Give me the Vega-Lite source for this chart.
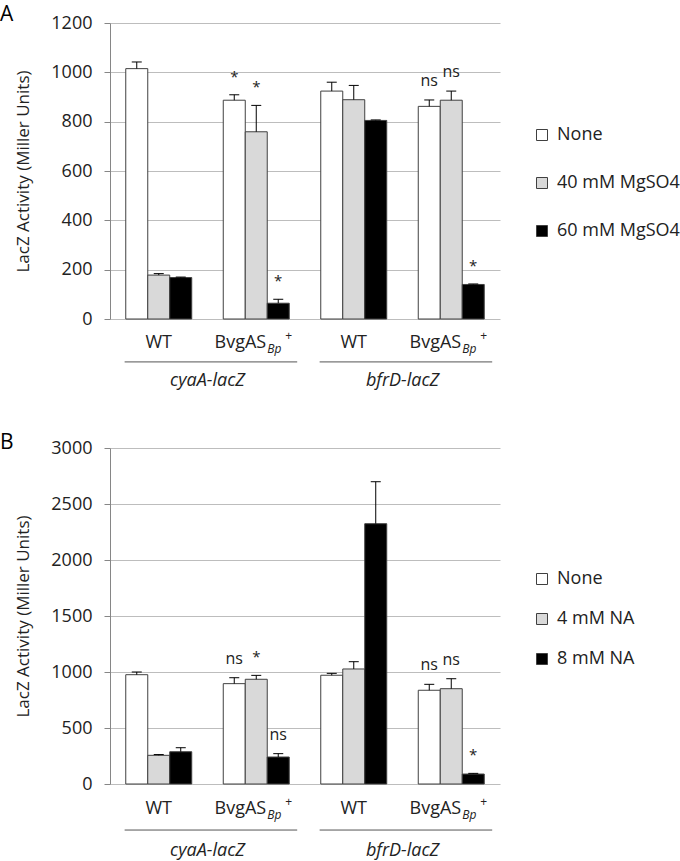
{
  "$schema": "https://vega.github.io/schema/vega-lite/v6.json",
  "padding": {"left": 0, "top": 4, "right": 0, "bottom": 0},
  "background": "white",
  "bounds": "flush",
  "spacing": 129,
  "config": {
    "font": "Open Sans",
    "view": {"stroke": null},
    "axis": {
      "labelFontSize": 18, "labelColor": "#222", "labelFont": "Open Sans", "format": "d",
      "titleFontSize": 17, "titleFontWeight": "normal", "titleColor": "#222", "titleFont": "Open Sans",
      "domainColor": "#868686", "tickColor": "#868686", "tickSize": 6,
      "gridColor": "#bdbdbd", "labelPadding": 12, "titlePadding": 18
    },
    "legend": {
      "title": null, "orient": "none", "symbolType": "square", "symbolSize": 121,
      "symbolStrokeColor": "#404040", "symbolStrokeWidth": 1, "labelFontSize": 18,
      "labelOffset": 6, "labelColor": "#222", "padding": 0, "labelFont": "Open Sans", "symbolOpacity": 1
    }
  },
  "resolve": {"scale": {"fill": "independent", "y": "independent", "x": "independent", "xOffset": "independent"}, "legend": {"fill": "independent"}},
  "datasets": {
    "mg": [
      {"grp": "cyaA-WT", "cond": "None", "value": 1015, "upper": 1042, "sig": ""},
      {"grp": "cyaA-WT", "cond": "40 mM MgSO4", "value": 178, "upper": 184, "sig": ""},
      {"grp": "cyaA-WT", "cond": "60 mM MgSO4", "value": 168, "upper": 170, "sig": ""},
      {"grp": "cyaA-BvgAS", "cond": "None", "value": 887, "upper": 909, "sig": "*"},
      {"grp": "cyaA-BvgAS", "cond": "40 mM MgSO4", "value": 759, "upper": 866, "sig": "*"},
      {"grp": "cyaA-BvgAS", "cond": "60 mM MgSO4", "value": 64, "upper": 80, "sig": "*"},
      {"grp": "bfrD-WT", "cond": "None", "value": 924, "upper": 960, "sig": ""},
      {"grp": "bfrD-WT", "cond": "40 mM MgSO4", "value": 889, "upper": 947, "sig": ""},
      {"grp": "bfrD-WT", "cond": "60 mM MgSO4", "value": 805, "upper": 807, "sig": ""},
      {"grp": "bfrD-BvgAS", "cond": "None", "value": 862, "upper": 888, "sig": "ns"},
      {"grp": "bfrD-BvgAS", "cond": "40 mM MgSO4", "value": 887, "upper": 924, "sig": "ns"},
      {"grp": "bfrD-BvgAS", "cond": "60 mM MgSO4", "value": 140, "upper": 142, "sig": "*"}
    ],
    "na": [
      {"grp": "cyaA-WT", "cond": "None", "value": 976, "upper": 1000, "sig": ""},
      {"grp": "cyaA-WT", "cond": "4 mM NA", "value": 256, "upper": 263, "sig": ""},
      {"grp": "cyaA-WT", "cond": "8 mM NA", "value": 288, "upper": 324, "sig": ""},
      {"grp": "cyaA-BvgAS", "cond": "None", "value": 896, "upper": 949, "sig": "ns"},
      {"grp": "cyaA-BvgAS", "cond": "4 mM NA", "value": 935, "upper": 970, "sig": "*"},
      {"grp": "cyaA-BvgAS", "cond": "8 mM NA", "value": 241, "upper": 271, "sig": "ns"},
      {"grp": "bfrD-WT", "cond": "None", "value": 971, "upper": 988, "sig": ""},
      {"grp": "bfrD-WT", "cond": "4 mM NA", "value": 1027, "upper": 1092, "sig": ""},
      {"grp": "bfrD-WT", "cond": "8 mM NA", "value": 2324, "upper": 2699, "sig": ""},
      {"grp": "bfrD-BvgAS", "cond": "None", "value": 837, "upper": 890, "sig": "ns"},
      {"grp": "bfrD-BvgAS", "cond": "4 mM NA", "value": 851, "upper": 940, "sig": "ns"},
      {"grp": "bfrD-BvgAS", "cond": "8 mM NA", "value": 89, "upper": 95, "sig": "*"}
    ],
    "strains": [
      {"grp": "cyaA-WT", "main": "WT", "sub": "", "sup": ""},
      {"grp": "cyaA-BvgAS", "main": "BvgAS", "sub": "Bp", "sup": "+"},
      {"grp": "bfrD-WT", "main": "WT", "sub": "", "sup": ""},
      {"grp": "bfrD-BvgAS", "main": "BvgAS", "sub": "Bp", "sup": "+"}
    ],
    "reporters": [
      {"rep": "cyaA-lacZ", "first": "cyaA-WT", "last": "cyaA-BvgAS"},
      {"rep": "bfrD-lacZ", "first": "bfrD-WT", "last": "bfrD-BvgAS"}
    ]
  },
  "vconcat": [
    {
      "width": 390, "height": 296,
      "title": {"text": "A", "anchor": "start", "frame": "group", "dx": -110, "fontSize": 21, "fontWeight": "normal", "offset": -28, "baseline": "alphabetic", "color": "black"},
      "layer": [
        {
          "data": {"name": "mg"},
          "mark": {"type": "bar", "stroke": "#404040", "strokeWidth": 1},
          "encoding": {
            "x": {"field": "grp", "type": "nominal", "scale": {"domain": ["cyaA-WT", "cyaA-BvgAS", "bfrD-WT", "bfrD-BvgAS"], "paddingInner": 0, "paddingOuter": 0}, "axis": null},
            "xOffset": {"field": "cond", "type": "nominal", "scale": {"domain": ["None", "40 mM MgSO4", "60 mM MgSO4"], "paddingInner": 0, "paddingOuter": 0.716}},
            "y": {"field": "value", "type": "quantitative", "scale": {"domain": [0, 1200], "nice": false}, "axis": {"values": [0, 200, 400, 600, 800, 1000, 1200], "title": "LacZ Activity (Miller Units)", "grid": true}},
            "fill": {"field": "cond", "type": "nominal", "scale": {"domain": ["None", "40 mM MgSO4", "60 mM MgSO4"], "range": ["white", "#d9d9d9", "black"]}, "legend": {"legendX": 423, "legendY": 103, "rowPadding": 30}}
          }
        },
        {
          "data": {"name": "mg"},
          "mark": {"type": "rule", "color": "black", "strokeWidth": 1},
          "encoding": {
            "x": {"field": "grp", "type": "nominal"},
            "xOffset": {"field": "cond", "type": "nominal"},
            "y": {"field": "value", "type": "quantitative"},
            "y2": {"field": "upper"}
          }
        },
        {
          "data": {"name": "mg"},
          "mark": {"type": "tick", "color": "black", "size": 10, "thickness": 1, "opacity": 1},
          "encoding": {
            "x": {"field": "grp", "type": "nominal"},
            "xOffset": {"field": "cond", "type": "nominal"},
            "y": {"field": "upper", "type": "quantitative"}
          }
        },
        {
          "data": {"name": "mg"},
          "transform": [{"filter": "datum.sig == '*'"}],
          "mark": {"type": "text", "fontSize": 15, "dy": -13, "baseline": "alphabetic", "color": "#222"},
          "encoding": {
            "x": {"field": "grp", "type": "nominal"},
            "xOffset": {"field": "cond", "type": "nominal"},
            "y": {"field": "upper", "type": "quantitative"},
            "text": {"field": "sig"}
          }
        },
        {
          "data": {"name": "mg"},
          "transform": [{"filter": "datum.sig == 'ns'"}],
          "mark": {"type": "text", "fontSize": 16, "dy": -14, "baseline": "alphabetic", "color": "#222"},
          "encoding": {
            "x": {"field": "grp", "type": "nominal"},
            "xOffset": {"field": "cond", "type": "nominal"},
            "y": {"field": "upper", "type": "quantitative"},
            "text": {"field": "sig"}
          }
        },
        {
          "data": {"name": "strains"},
          "transform": [{"filter": "datum.main == 'WT'"}],
          "mark": {"type": "text", "fontSize": 18, "dy": 24, "baseline": "middle", "align": "center", "color": "#222"},
          "encoding": {
            "x": {"field": "grp", "type": "nominal"},
            "y": {"datum": 0, "type": "quantitative"},
            "text": {"field": "main"}
          }
        },
        {
          "data": {"name": "strains"},
          "transform": [{"filter": "datum.main != 'WT'"}],
          "mark": {"type": "text", "fontSize": 18, "dy": 24, "dx": 10, "baseline": "middle", "align": "right", "color": "#222"},
          "encoding": {
            "x": {"field": "grp", "type": "nominal"},
            "y": {"datum": 0, "type": "quantitative"},
            "text": {"field": "main"}
          }
        },
        {
          "data": {"name": "strains"},
          "transform": [{"filter": "datum.main != 'WT'"}],
          "mark": {"type": "text", "fontSize": 12, "fontStyle": "italic", "dy": 30, "dx": 11, "baseline": "middle", "align": "left", "color": "#222"},
          "encoding": {
            "x": {"field": "grp", "type": "nominal"},
            "y": {"datum": 0, "type": "quantitative"},
            "text": {"field": "sub"}
          }
        },
        {
          "data": {"name": "strains"},
          "transform": [{"filter": "datum.main != 'WT'"}],
          "mark": {"type": "text", "fontSize": 12, "dy": 17, "dx": 29, "baseline": "middle", "align": "left", "color": "#222"},
          "encoding": {
            "x": {"field": "grp", "type": "nominal"},
            "y": {"datum": 0, "type": "quantitative"},
            "text": {"field": "sup"}
          }
        },
        {
          "data": {"name": "reporters"},
          "mark": {"type": "rule", "color": "#555", "strokeWidth": 1},
          "encoding": {
            "x": {"field": "first", "type": "nominal", "bandPosition": 0.15},
            "x2": {"field": "last", "bandPosition": 0.92},
            "y": {"datum": -174, "type": "quantitative"}
          }
        },
        {
          "data": {"name": "reporters"},
          "mark": {"type": "text", "fontSize": 18, "fontStyle": "italic", "dy": 62, "baseline": "middle", "align": "center", "color": "#222"},
          "encoding": {
            "x": {"field": "last", "type": "nominal", "bandPosition": 0},
            "y": {"datum": 0, "type": "quantitative"},
            "text": {"field": "rep"}
          }
        }
      ]
    },
    {
      "width": 390, "height": 336,
      "title": {"text": "B", "anchor": "start", "frame": "group", "dx": -110, "fontSize": 21, "fontWeight": "normal", "offset": -31, "baseline": "alphabetic", "color": "black"},
      "layer": [
        {
          "data": {"name": "na"},
          "mark": {"type": "bar", "stroke": "#404040", "strokeWidth": 1},
          "encoding": {
            "x": {"field": "grp", "type": "nominal", "scale": {"domain": ["cyaA-WT", "cyaA-BvgAS", "bfrD-WT", "bfrD-BvgAS"], "paddingInner": 0, "paddingOuter": 0}, "axis": null},
            "xOffset": {"field": "cond", "type": "nominal", "scale": {"domain": ["None", "4 mM NA", "8 mM NA"], "paddingInner": 0, "paddingOuter": 0.716}},
            "y": {"field": "value", "type": "quantitative", "scale": {"domain": [0, 3000], "nice": false}, "axis": {"values": [0, 500, 1000, 1500, 2000, 2500, 3000], "title": "LacZ Activity (Miller Units)", "grid": true}},
            "fill": {"field": "cond", "type": "nominal", "scale": {"domain": ["None", "4 mM NA", "8 mM NA"], "range": ["white", "#d9d9d9", "black"]}, "legend": {"legendX": 423, "legendY": 122, "rowPadding": 22}}
          }
        },
        {
          "data": {"name": "na"},
          "mark": {"type": "rule", "color": "black", "strokeWidth": 1},
          "encoding": {
            "x": {"field": "grp", "type": "nominal"},
            "xOffset": {"field": "cond", "type": "nominal"},
            "y": {"field": "value", "type": "quantitative"},
            "y2": {"field": "upper"}
          }
        },
        {
          "data": {"name": "na"},
          "mark": {"type": "tick", "color": "black", "size": 10, "thickness": 1, "opacity": 1},
          "encoding": {
            "x": {"field": "grp", "type": "nominal"},
            "xOffset": {"field": "cond", "type": "nominal"},
            "y": {"field": "upper", "type": "quantitative"}
          }
        },
        {
          "data": {"name": "na"},
          "transform": [{"filter": "datum.sig == '*'"}],
          "mark": {"type": "text", "fontSize": 15, "dy": -13, "baseline": "alphabetic", "color": "#222"},
          "encoding": {
            "x": {"field": "grp", "type": "nominal"},
            "xOffset": {"field": "cond", "type": "nominal"},
            "y": {"field": "upper", "type": "quantitative"},
            "text": {"field": "sig"}
          }
        },
        {
          "data": {"name": "na"},
          "transform": [{"filter": "datum.sig == 'ns'"}],
          "mark": {"type": "text", "fontSize": 16, "dy": -14, "baseline": "alphabetic", "color": "#222"},
          "encoding": {
            "x": {"field": "grp", "type": "nominal"},
            "xOffset": {"field": "cond", "type": "nominal"},
            "y": {"field": "upper", "type": "quantitative"},
            "text": {"field": "sig"}
          }
        },
        {
          "data": {"name": "strains"},
          "transform": [{"filter": "datum.main == 'WT'"}],
          "mark": {"type": "text", "fontSize": 18, "dy": 25, "baseline": "middle", "align": "center", "color": "#222"},
          "encoding": {
            "x": {"field": "grp", "type": "nominal"},
            "y": {"datum": 0, "type": "quantitative"},
            "text": {"field": "main"}
          }
        },
        {
          "data": {"name": "strains"},
          "transform": [{"filter": "datum.main != 'WT'"}],
          "mark": {"type": "text", "fontSize": 18, "dy": 25, "dx": 10, "baseline": "middle", "align": "right", "color": "#222"},
          "encoding": {
            "x": {"field": "grp", "type": "nominal"},
            "y": {"datum": 0, "type": "quantitative"},
            "text": {"field": "main"}
          }
        },
        {
          "data": {"name": "strains"},
          "transform": [{"filter": "datum.main != 'WT'"}],
          "mark": {"type": "text", "fontSize": 12, "fontStyle": "italic", "dy": 31, "dx": 11, "baseline": "middle", "align": "left", "color": "#222"},
          "encoding": {
            "x": {"field": "grp", "type": "nominal"},
            "y": {"datum": 0, "type": "quantitative"},
            "text": {"field": "sub"}
          }
        },
        {
          "data": {"name": "strains"},
          "transform": [{"filter": "datum.main != 'WT'"}],
          "mark": {"type": "text", "fontSize": 12, "dy": 18, "dx": 29, "baseline": "middle", "align": "left", "color": "#222"},
          "encoding": {
            "x": {"field": "grp", "type": "nominal"},
            "y": {"datum": 0, "type": "quantitative"},
            "text": {"field": "sup"}
          }
        },
        {
          "data": {"name": "reporters"},
          "mark": {"type": "rule", "color": "#555", "strokeWidth": 1},
          "encoding": {
            "x": {"field": "first", "type": "nominal", "bandPosition": 0.15},
            "x2": {"field": "last", "bandPosition": 0.92},
            "y": {"datum": -411, "type": "quantitative"}
          }
        },
        {
          "data": {"name": "reporters"},
          "mark": {"type": "text", "fontSize": 18, "fontStyle": "italic", "dy": 67, "baseline": "middle", "align": "center", "color": "#222"},
          "encoding": {
            "x": {"field": "last", "type": "nominal", "bandPosition": 0},
            "y": {"datum": 0, "type": "quantitative"},
            "text": {"field": "rep"}
          }
        }
      ]
    }
  ]
}
